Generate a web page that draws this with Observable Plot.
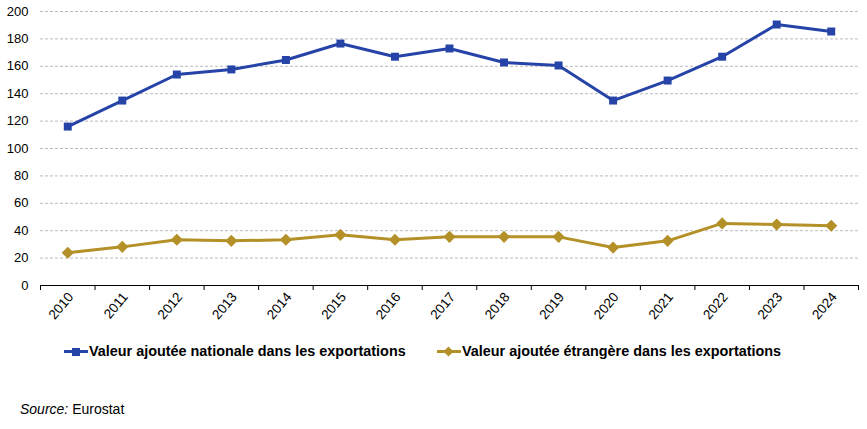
<!DOCTYPE html>
<html><head><meta charset="utf-8">
<script src="https://cdn.jsdelivr.net/npm/d3@7"></script>
<script src="https://cdn.jsdelivr.net/npm/@observablehq/plot@0.6"></script>
<style>
body{margin:0;background:#fff;font-family:"Liberation Sans",Arial,sans-serif;}
#legend{position:relative;height:30px;font-weight:bold;font-size:14.4px;color:#000;}
.li{position:absolute;top:3px;display:flex;align-items:center;white-space:nowrap;}
.sw{position:relative;width:24px;height:12px;margin-right:1px;}
.sw .ln{position:absolute;left:0;right:0;top:5px;height:3px;}
#source{position:absolute;left:20px;top:401px;font-size:14px;}
</style></head>
<body>
<div id="chart"></div>
<div id="legend"></div>
<div id="source"><i>Source:</i> Eurostat</div>
<script>
const years = [2010,2011,2012,2013,2014,2015,2016,2017,2018,2019,2020,2021,2022,2023,2024];
const nationale = [116,135,154,157.7,164.6,176.6,167,173,162.8,160.6,135,149.6,167,190.5,185.4];
const etrangere = [23.9,28.2,33.4,32.6,33.4,37,33.4,35.5,35.5,35.5,27.7,32.6,45.3,44.5,43.6];
const yTicks = [0,20,40,60,80,100,120,140,160,180,200];
const seriesNames = ["Valeur ajoutée nationale dans les exportations","Valeur ajoutée étrangère dans les exportations"];
const colors = ["#2644a8","#b39128"];

const nat = years.map((y,i)=>({year:y,value:nationale[i]}));
const etr = years.map((y,i)=>({year:y,value:etrangere[i]}));
const bounds = d3.range(years[0]-0.5, years[years.length-1]+1, 1);

const chart = Plot.plot({
  width: 867, height: 340,
  marginLeft: 40, marginRight: 9, marginTop: 11, marginBottom: 55,
  style: {fontFamily: '"Liberation Sans", Arial, sans-serif', fontSize: "13px", color:"#000"},
  x: {type:"linear", domain:[years[0]-0.5, years[years.length-1]+0.5]},
  y: {domain:[0,200]},
  marks: [
    Plot.ruleY(yTicks.filter(d=>d>0), {stroke:"#aaa", strokeDasharray:"3,2", strokeWidth:0.8}),
    Plot.axisY({ticks: yTicks, tickSize:0, tickPadding:12, label:null, fontSize:13}),
    Plot.axisX({ticks: bounds, tickSize:5, tickFormat:()=>"", label:null, stroke:"#000"}),
    Plot.axisX({ticks: years, tickSize:0, tickPadding:6, tickFormat:d=>String(d), tickRotate:-50, label:null, fontSize:13.5, dx:3, dy:3}),
    Plot.ruleY([0], {stroke:"#000", strokeWidth:1.2}),
    Plot.line(nat, {x:"year", y:"value", stroke:colors[0], strokeWidth:3}),
    Plot.dot(nat, {x:"year", y:"value", fill:colors[0], symbol:"square", r:4.5}),
    Plot.line(etr, {x:"year", y:"value", stroke:colors[1], strokeWidth:3}),
    Plot.dot(etr, {x:"year", y:"value", fill:colors[1], symbol:"diamond2", r:5.5})
  ]
});
document.getElementById("chart").appendChild(chart);

const legend = document.getElementById("legend");
const pos = [64, 437];
seriesNames.forEach((name,i)=>{
  const item = document.createElement("div");
  item.className="li"; item.style.left = pos[i]+"px";
  const sw = document.createElement("div"); sw.className="sw";
  const ln = document.createElement("div"); ln.className="ln"; ln.style.background=colors[i]; sw.appendChild(ln);
  const mk = document.createElement("div");
  mk.style.position="absolute"; mk.style.background=colors[i];
  if(i===0){ mk.style.left="8px"; mk.style.top="2.5px"; mk.style.width="8px"; mk.style.height="8px"; }
  else { mk.style.left="8px"; mk.style.top="2.5px"; mk.style.width="7px"; mk.style.height="7px"; mk.style.transform="rotate(45deg)"; }
  sw.appendChild(mk);
  item.appendChild(sw);
  const t = document.createElement("span"); t.textContent = name; item.appendChild(t);
  legend.appendChild(item);
});
</script>
</body></html>
